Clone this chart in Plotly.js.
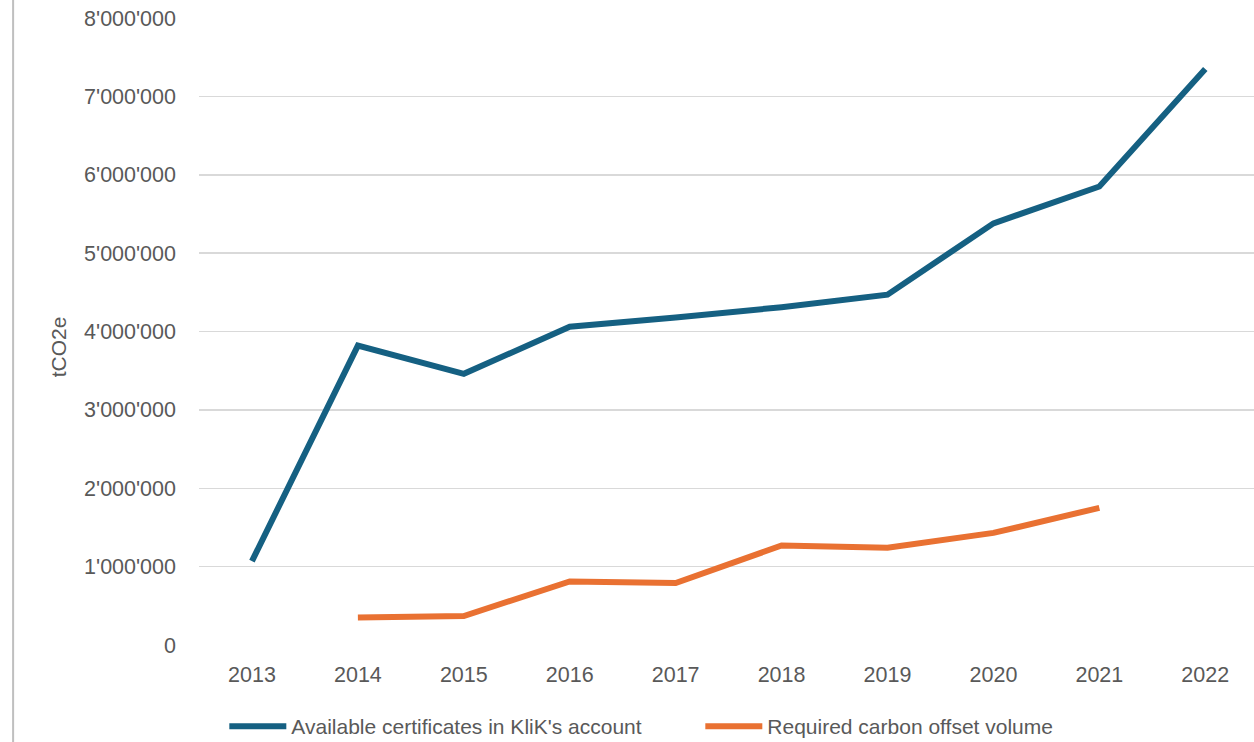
<!DOCTYPE html>
<html>
<head>
<meta charset="utf-8">
<script src="https://cdn.plot.ly/plotly-3.0.1.min.js"></script>
<style>
  html, body { margin: 0; padding: 0; background: #ffffff; }
  #chart { width: 1254px; height: 742px; }
</style>
</head>
<body>
<div id="chart"></div>
<script>
const years = ['2013', '2014', '2015', '2016', '2017', '2018', '2019', '2020', '2021', '2022'];
const availableCertificates = [1070000, 3820000, 3460000, 4060000, 4180000, 4310000, 4470000, 5380000, 5850000, 7350000];
const requiredOffset = [null, 350000, 370000, 810000, 790000, 1270000, 1240000, 1430000, 1750000, null];
const seriesNames = ["Available certificates in KliK's account", 'Required carbon offset volume'];
const yTickValues = [0, 1000000, 2000000, 3000000, 4000000, 5000000, 6000000, 7000000, 8000000];
const yAxisTitle = 'tCO2e';

const textColor = '#595959';
const fontFamily = '"Liberation Sans", Arial, sans-serif';

const traces = [
  {
    x: years, y: availableCertificates, name: seriesNames[0],
    type: 'scatter', mode: 'lines',
    line: { color: '#156082', width: 6 },
    connectgaps: false
  },
  {
    x: years, y: requiredOffset, name: seriesNames[1],
    type: 'scatter', mode: 'lines',
    line: { color: '#E97132', width: 6 },
    connectgaps: false
  }
];

const layout = {
  width: 1254, height: 742,
  margin: { l: 199, r: 0, t: 18, b: 97, pad: 0, autoexpand: false },
  paper_bgcolor: '#ffffff', plot_bgcolor: '#ffffff',
  separators: ".'",
  font: { family: fontFamily, color: textColor, size: 21 },
  showlegend: true,
  xaxis: {
    type: 'category',
    range: [-0.5, 9.46],
    showgrid: false, zeroline: false, showline: false,
    ticks: '', ticklabelstandoff: 14,
    tickfont: { family: fontFamily, size: 21.5, color: textColor },
    fixedrange: true
  },
  yaxis: {
    range: [0, 8000000],
    tickvals: yTickValues,
    tickformat: ',d',
    showgrid: true, gridcolor: '#d9d9d9', gridwidth: 1.5,
    zeroline: false, showline: false,
    ticks: '', ticklabelstandoff: 22,
    tickfont: { family: fontFamily, size: 21.5, color: textColor },
    fixedrange: true
  },
  legend: {
    orientation: 'h',
    x: 0.024, xanchor: 'left',
    y: -0.13, yanchor: 'middle',
    font: { family: fontFamily, size: 21, color: textColor },
    itemwidth: 57,
    entrywidth: 404, entrywidthmode: 'pixels',
    bgcolor: 'rgba(0,0,0,0)'
  },
  annotations: [
    {
      text: yAxisTitle, xref: 'paper', yref: 'paper',
      x: -0.1336, y: 0.475, xanchor: 'center', yanchor: 'middle',
      textangle: -90, showarrow: false,
      font: { family: fontFamily, size: 21, color: textColor }
    }
  ],
  shapes: [
    {
      type: 'line', xref: 'paper', yref: 'paper',
      x0: -0.1762, x1: -0.1762, y0: -0.2, y1: 1.1,
      line: { color: '#bfbfbf', width: 2 }
    }
  ]
};

Plotly.newPlot('chart', traces, layout, { displayModeBar: false, staticPlot: true });
</script>
</body>
</html>
